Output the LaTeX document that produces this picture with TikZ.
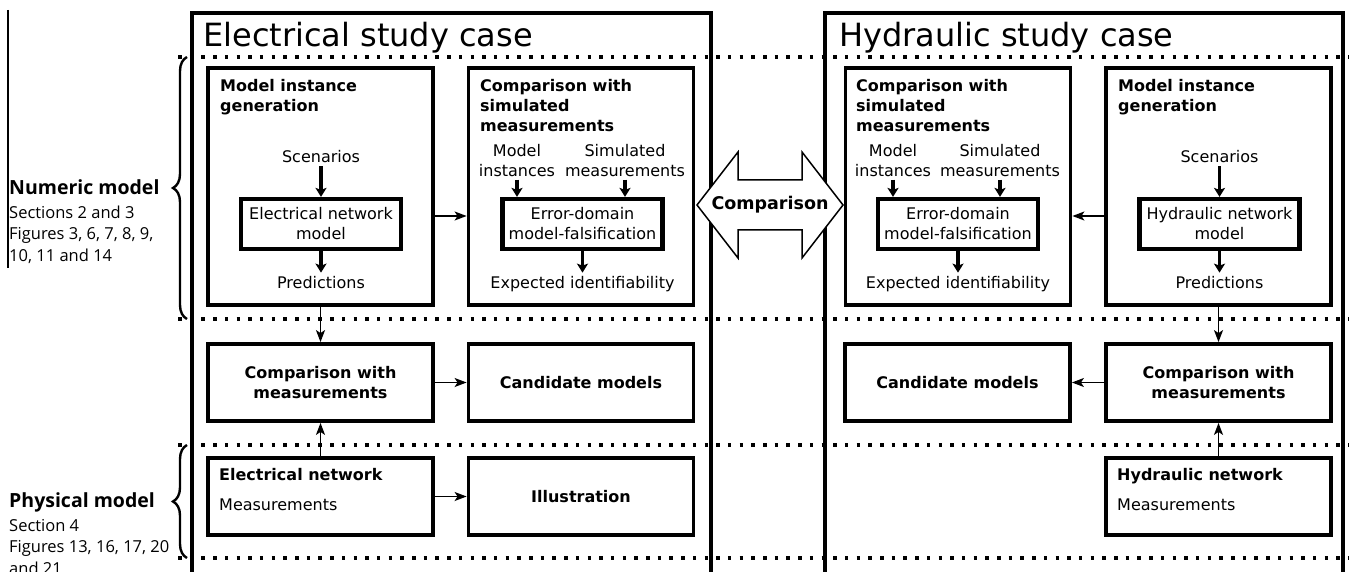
\documentclass[tikz,border=0pt]{standalone}
\usepackage{fontspec}
\setmainfont{DejaVu Sans}
\newfontfamily\sidefont{Open Sans}
\usetikzlibrary{arrows.meta,decorations.pathreplacing}
\newcommand\bodysize{\fontsize{16}{20}\selectfont}
\tikzset{
	outerbox/.style={draw, line width=3.2pt},
	bigbox/.style={draw, line width=3.8pt, minimum width=225pt, minimum height=237pt, inner sep=0pt},
	rowbox/.style={draw, line width=3.8pt, minimum width=225pt, minimum height=77pt, align=center, font=\bfseries\bodysize},
	netbox/.style={draw, line width=4.2pt, minimum width=160pt, minimum height=50pt, inner sep=1pt, align=center, font=\bodysize},
	headtxt/.style={anchor=north west, align=left, inner sep=0pt, font=\bfseries\bodysize},
	bodytxt/.style={inner sep=3pt, font=\bodysize},
	titletxt/.style={anchor=base west, inner sep=0pt, font=\fontsize{32}{38}\selectfont},
	sidetxt/.style={anchor=north west, align=left, inner sep=0pt, font=\sidefont\fontsize{16.5}{21.5}\selectfont},
	dotline/.style={line width=3.5pt, dash pattern=on 3.5pt off 8.2pt},
	fatarrow/.style={line width=3.6pt, -{Stealth[length=9pt,width=11pt,inset=2pt]}},
	thinarrow/.style={line width=1.6pt, -{Stealth[length=12pt,width=9pt,inset=3pt]}},
	bracedeco/.style={line width=2.4pt, decorate, decoration={brace, amplitude=14pt}}
}

\begin{document}
\begin{tikzpicture}[x=1pt, y=-1pt]
		%%%%% START %%%%%
		\clip (0,0) rectangle (1349,572);
		
		% side labels
		\draw[line width=1.3pt] (8,10) -- (8,268);
		\node[sidetxt] (numLabel) at (9,179.5) {{\fontsize{19.5}{21.5}\selectfont\bfseries Numeric model}\\[2pt]Sections 2 and 3\\Figures 3, 6, 7, 8, 9,\\10, 11 and 14};
		\node[sidetxt] (physLabel) at (9,492.5) {{\fontsize{19.5}{21.5}\selectfont\bfseries Physical model}\\[2pt]Section 4\\Figures 13, 16, 17, 20\\and 21};
		\draw[bracedeco] (187,319) -- (187,57);
		\draw[bracedeco] (187,558) -- (187,445);
		
		% study case frames
		\draw[outerbox] (192,13) rectangle (711,600);
		\draw[outerbox] (825,13) rectangle (1343,600);
		\node[titletxt] (elecTitle) at (203,47) {Electrical study case};
		\node[titletxt] (hydTitle) at (839,47) {Hydraulic study case};
		\foreach \y in {57,319,445,558}
			\draw[dotline] (178,\y) -- (1349,\y);
		
		% electrical, numeric model
		\node[bigbox] (elecGen) at (320.5,186.5) {};
		\node[bigbox] (elecSim) at (581,186.5) {};
		\node[headtxt] (elecGenHead) at (220,79) {Model instance\\generation};
		\node[headtxt] (elecSimHead) at (480,79) {Comparison with\\simulated\\measurements};
		\node[bodytxt, anchor=base] (elecScen) at (321,163) {Scenarios};
		\node[netbox] (elecModel) at (321,224) {Electrical network\\model};
		\node[bodytxt, anchor=base] (elecPred) at (321,288) {Predictions};
		\draw[fatarrow] (elecScen) -- (elecModel);
		\draw[fatarrow] (elecModel) -- (elecPred);
		\node[bodytxt, align=center, anchor=north] (elecInst) at (517,140.8) {Model\\instances};
		\node[bodytxt, align=center, anchor=north] (elecMeas) at (625,140.8) {Simulated\\measurements};
		\node[netbox] (elecFals) at (582.5,224) {Error-domain\\model-falsification};
		\node[bodytxt, anchor=base] (elecExp) at (582.5,288) {Expected identifiability};
		\draw[fatarrow] (elecInst) -- (elecInst |- elecFals.north);
		\draw[fatarrow] (elecMeas) -- (elecMeas |- elecFals.north);
		\draw[fatarrow] (elecFals) -- (elecExp);
		\draw[thinarrow] ([yshift=-29.5pt]elecGen.east) -- ([yshift=-29.5pt]elecSim.west);
		
		% hydraulic, numeric model
		\node[bigbox] (hydSim) at (958,186.5) {};
		\node[bigbox] (hydGen) at (1218.5,186.5) {};
		\node[headtxt] (hydSimHead) at (856,79) {Comparison with\\simulated\\measurements};
		\node[headtxt] (hydGenHead) at (1118,79) {Model instance\\generation};
		\node[bodytxt, anchor=base] (hydScen) at (1219.5,163) {Scenarios};
		\node[netbox] (hydModel) at (1219.5,224) {Hydraulic network\\model};
		\node[bodytxt, anchor=base] (hydPred) at (1219.5,288) {Predictions};
		\draw[fatarrow] (hydScen) -- (hydModel);
		\draw[fatarrow] (hydModel) -- (hydPred);
		\node[bodytxt, align=center, anchor=north] (hydInst) at (893,140.8) {Model\\instances};
		\node[bodytxt, align=center, anchor=north] (hydMeas) at (1000,140.8) {Simulated\\measurements};
		\node[netbox] (hydFals) at (958,224) {Error-domain\\model-falsification};
		\node[bodytxt, anchor=base] (hydExp) at (958,288) {Expected identifiability};
		\draw[fatarrow] (hydInst) -- (hydInst |- hydFals.north);
		\draw[fatarrow] (hydMeas) -- (hydMeas |- hydFals.north);
		\draw[fatarrow] (hydFals) -- (hydExp);
		\draw[thinarrow] ([yshift=-29.5pt]hydGen.west) -- ([yshift=-29.5pt]hydSim.east);
		
		% comparison between the two cases
		\draw[line width=1.5pt, fill=white] (697,205) -- (738,152) -- (738,180) -- (802,180) -- (802,152) -- (843,205) -- (802,258) -- (802,230) -- (738,230) -- (738,258) -- cycle;
		\node[font=\bfseries\fontsize{17.5}{20}\selectfont, inner sep=0pt] (cmpLabel) at (770,205) {Comparison};
		
		% measurements and candidates
		\node[rowbox] (elecMeasCmp) at (320.5,382.5) {Comparison with\\measurements};
		\node[rowbox] (elecCand) at (581,382.5) {Candidate models};
		\node[rowbox] (hydCand) at (957.5,382.5) {Candidate models};
		\node[rowbox] (hydMeasCmp) at (1218.5,382.5) {Comparison with\\measurements};
		\draw[thinarrow] (elecGen) -- (elecMeasCmp);
		\draw[thinarrow] (elecMeasCmp) -- (elecCand);
		\draw[thinarrow] (hydGen) -- (hydMeasCmp);
		\draw[thinarrow] (hydMeasCmp) -- (hydCand);
		
		% physical model
		\node[rowbox] (elecNet) at (320.5,496.5) {};
		\node[rowbox] (elecIllus) at (581,496.5) {Illustration};
		\node[rowbox] (hydNet) at (1218.5,496.5) {};
		\node[headtxt] (elecNetHead) at (219,468) {Electrical network};
		\node[bodytxt, anchor=base west, inner sep=0pt] (elecNetMeas) at (219,510) {Measurements};
		\node[headtxt] (hydNetHead) at (1117,468) {Hydraulic network};
		\node[bodytxt, anchor=base west, inner sep=0pt] (hydNetMeas) at (1117,510) {Measurements};
		\draw[thinarrow] (elecNet) -- (elecMeasCmp);
		\draw[thinarrow] (elecNet) -- (elecIllus);
		\draw[thinarrow] (hydNet) -- (hydMeasCmp);
		%%%%% END %%%%%
\end{tikzpicture}
\end{document}
